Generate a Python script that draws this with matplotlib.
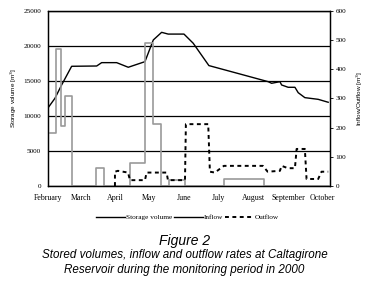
import matplotlib
matplotlib.use("Agg")
import matplotlib.pyplot as plt

# x values are day-of-year in 2000
storage_day = [32, 38.2, 44.1, 53, 75.2, 79.6, 92.9, 103.2, 118, 125.4, 132.8, 138.6,
               152.6, 160.8, 174.7, 202.2, 227.3, 230.3, 237.7, 239.2, 245, 251,
               253.9, 259.8, 271.6, 280.5]
storage_vol = [11150, 12530, 14430, 17100, 17140, 17620, 17620, 16960, 17760, 20860,
               21950, 21700, 21700, 20390, 17200, 16000, 14900, 14670, 14900, 14430,
               14100, 14100, 13330, 12620, 12380, 11960]

inflow_day = [32, 39.1, 39.1, 43.3, 43.3, 47.1, 47.1, 53.5, 53.5, 74.6, 74.6, 81.9,
              81.9, 104.7, 104.7, 118, 118, 125.4, 125.4, 132.2, 132.2, 139.5, 139.5,
              153.5, 153.5, 188.3, 188.3, 223.8, 223.8, 281]
inflow_val = [180, 180, 469, 469, 206, 206, 310, 310, 0, 0, 60, 60,
              0, 0, 80, 80, 491, 491, 211, 211, 0, 0, 22,
              22, 0, 0, 25, 25, 0, 0]

outflow_day = [91.4, 91.4, 94, 103, 104.7, 107, 118, 119.5, 137.2, 138.4, 153.5, 154.3,
               174.1, 175.6, 180, 188, 222.6, 226.8, 237.7, 239.2, 244.8, 251, 252.5,
               259.8, 261.3, 271.6, 274.6, 280.5]
outflow_val = [0, 49, 52, 46, 20, 20, 20, 46, 46, 20, 20, 212,
               212, 49, 46, 69, 69, 49, 52, 69, 61, 61, 127,
               127, 24, 24, 49, 49]

month_days = [32, 61, 92, 122, 153, 183, 214, 245, 275]
month_labels = ["February", "March", "April", "May", "June", "July", "August",
                "September", "October"]

serif = "Liberation Serif"
sans = "Liberation Sans"

fig = plt.figure(figsize=(3.69, 2.83), dpi=100)
ax = fig.add_axes([0.130, 0.3428, 0.764, 0.6184])
ax2 = ax.twinx()

l1, = ax.plot(storage_day, storage_vol, color="black", lw=1.0, label="Storage volume", zorder=3)
l2, = ax2.plot(inflow_day, inflow_val, color="#9a9a9a", lw=1.2, label="Inflow", zorder=2)
l3, = ax2.plot(outflow_day, outflow_val, color="black", lw=1.4, ls=(0, (2, 1.8)),
               label="Outflow", zorder=2)

ax.set_xlim(32, 282)
ax.set_ylim(0, 25000)
ax2.set_ylim(0, 600)
ax.set_yticks([0, 5000, 10000, 15000, 20000, 25000])
ax2.set_yticks([0, 100, 200, 300, 400, 500, 600])
ax.set_xticks(month_days)
ax.set_xticklabels(month_labels)
ax.yaxis.grid(True, color="black", lw=0.9)
ax.set_axisbelow(True)

for a in (ax, ax2):
    for s in a.spines.values():
        s.set_linewidth(0.9)
ax.tick_params(axis="x", length=0, pad=6, labelsize=5.7)
ax.tick_params(axis="y", length=0, pad=5, labelsize=5.2)
ax2.tick_params(axis="y", length=2.5, width=0.6, pad=1.5, labelsize=5.2)
for t in ax.get_xticklabels() + ax.get_yticklabels() + ax2.get_yticklabels():
    t.set_fontfamily(serif)

ax.set_ylabel("Storage volume [m$^3$]", fontsize=4.6, family=sans, labelpad=3)
ax2.set_ylabel("Inflow/Outflow [m$^3$]", fontsize=4.6, family=sans, labelpad=6)

leg = fig.legend(handles=[l1, l2, l3], loc="center", bbox_to_anchor=(0.508, 0.232),
                 ncol=3, frameon=False, prop={"family": serif, "size": 5.2},
                 handlelength=4.0, handletextpad=0.1, columnspacing=0.3)
leg.get_lines()[1].set_color("black")
leg.get_lines()[1].set_linewidth(1.0)

fig.text(0.5, 0.150, "Figure 2", ha="center", va="center", fontsize=10,
         family=sans, style="italic")
fig.text(0.5, 0.098, "Stored volumes, inflow and outflow rates at Caltagirone",
         ha="center", va="center", fontsize=8.4, family=sans, style="italic")
fig.text(0.5, 0.045, "Reservoir during the monitoring period in 2000",
         ha="center", va="center", fontsize=8.4, family=sans, style="italic")

fig.savefig("out.png", dpi=100)
